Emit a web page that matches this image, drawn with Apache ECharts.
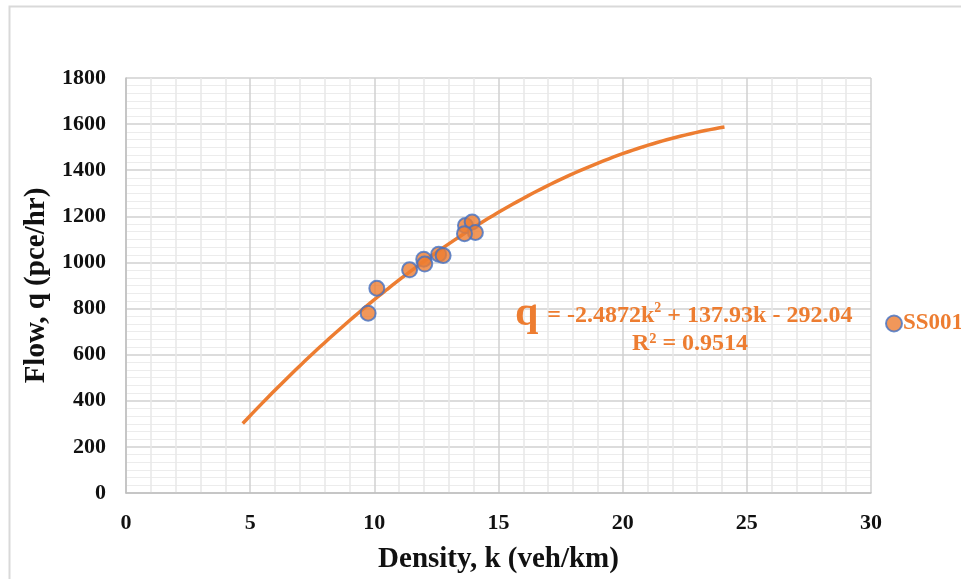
<!DOCTYPE html>
<html>
<head>
<meta charset="utf-8">
<script src="https://cdn.jsdelivr.net/npm/echarts@6/dist/echarts.min.js"></script>
<style>
  html, body { margin: 0; padding: 0; background: #fff; }
  #chart { width: 961px; height: 579px; }
</style>
</head>
<body>
<div id="chart"></div>
<script>
// Observed density (veh/km) and flow (pce/hr) pairs for station SS001
const densityK = [9.75, 10.1, 11.42, 11.99, 12.03, 12.59, 12.77, 13.67, 13.94, 14.07, 13.63];
const flowQ = [780, 888, 968, 1014, 993, 1036, 1030, 1160, 1175, 1130, 1125];

// Quadratic trendline: q = a*k^2 + b*k + c, fitted over k = 4.7 .. 24.1
const trendCoef = [-2.4872, 137.93, -292.04];
const trendRange = [4.7, 24.1];
const rSquared = '0.9514';

const seriesName = 'SS001';
const xTicks = [0, 5, 10, 15, 20, 25, 30];
const yTicks = [0, 200, 400, 600, 800, 1000, 1200, 1400, 1600, 1800];

const ORANGE = '#ED7D31';
const BLUE = '#4472C4';
const SERIF = '"Liberation Serif", "Times New Roman", serif';

const scatterData = densityK.map((k, i) => [k, flowQ[i]]);

const trendData = [];
for (let i = 0; i <= 100; i++) {
  const k = trendRange[0] + (trendRange[1] - trendRange[0]) * i / 100;
  trendData.push([k, trendCoef[0] * k * k + trendCoef[1] * k + trendCoef[2]]);
}

const eqTail = ' + ' + String(Math.abs(trendCoef[1])) + 'k - ' + Math.abs(trendCoef[2]).toFixed(2);

const chart = echarts.init(document.getElementById('chart'), null, { renderer: 'canvas' });

chart.setOption({
  animation: false,
  backgroundColor: '#fff',
  grid: { left: 126, right: 90, top: 78, bottom: 84 },
  xAxis: {
    type: 'value', min: xTicks[0], max: xTicks[xTicks.length - 1], interval: 5,
    name: 'Density, k (veh/km)', nameLocation: 'middle', nameGap: 52,
    nameTextStyle: { fontFamily: SERIF, fontWeight: 'bold', fontSize: 29, color: '#111' },
    axisLine: { show: true, lineStyle: { color: '#bfbfbf', width: 1.5 } },
    axisTick: { show: false },
    axisLabel: { fontFamily: SERIF, fontWeight: 'bold', fontSize: 22, color: '#111', margin: 19,
      formatter: v => String(v) },
    splitLine: { show: true, lineStyle: { color: '#d0d0d0', width: 1.5 } },
    minorTick: { show: false, splitNumber: 5 },
    minorSplitLine: { show: true, lineStyle: { color: '#e8e8e8', width: 1.5 } }
  },
  yAxis: {
    type: 'value', min: yTicks[0], max: yTicks[yTicks.length - 1], interval: 200,
    name: 'Flow, q (pce/hr)', nameLocation: 'middle', nameGap: 71, nameRotate: 90,
    nameTextStyle: { fontFamily: SERIF, fontWeight: 'bold', fontSize: 29, color: '#111' },
    axisLine: { show: true, lineStyle: { color: '#bfbfbf', width: 1.5 } },
    axisTick: { show: false },
    axisLabel: { fontFamily: SERIF, fontWeight: 'bold', fontSize: 22, color: '#111', margin: 20,
      formatter: v => String(v) },
    splitLine: { show: true, lineStyle: { color: '#d0d0d0', width: 1.5 } },
    minorTick: { show: false, splitNumber: 6 },
    minorSplitLine: { show: true, lineStyle: { color: '#ececec', width: 1 } }
  },
  legend: {
    left: 880, top: 307, itemWidth: 16, itemHeight: 16, itemGap: 4,
    data: [{ name: seriesName, icon: 'circle' }],
    textStyle: { fontFamily: SERIF, fontWeight: 'bold', fontSize: 23, color: ORANGE, padding: [0, 0, 0, -4] }
  },
  series: [
    {
      name: 'trend', type: 'line', data: trendData, showSymbol: false, smooth: false,
      lineStyle: { color: ORANGE, width: 3.5 }, z: 3, silent: true
    },
    {
      name: seriesName, type: 'scatter', data: scatterData, symbol: 'circle', symbolSize: 15,
      itemStyle: { color: ORANGE, borderColor: BLUE, borderWidth: 2 }, z: 4
    }
  ],
  graphic: [
    {
      type: 'rect', left: 7, top: 4, silent: true,
      shape: { width: 970, height: 600 },
      style: { fill: 'none', stroke: '#d9d9d9', lineWidth: 2 }
    },
    {
      type: 'text', left: 515, top: 293, z: 10,
      style: {
        text: '{q|q}{t| = ' + trendCoef[0] + 'k}{sup|2}{t|' + eqTail + '}',
        rich: {
          q: { fontFamily: SERIF, fontWeight: 'bold', fontSize: 42, fill: ORANGE, verticalAlign: 'bottom', padding: [0, 3, 0, 0] },
          t: { fontFamily: SERIF, fontWeight: 'bold', fontSize: 24, fill: ORANGE, verticalAlign: 'bottom', padding: [0, 0, 7, 0] },
          sup: { fontFamily: SERIF, fontWeight: 'bold', fontSize: 14, fill: ORANGE, verticalAlign: 'bottom', padding: [0, 0, 20, 0] }
        }
      }
    },
    {
      type: 'text', x: 690, y: 344, z: 10,
      style: {
        text: 'R² = ' + rSquared, align: 'center', verticalAlign: 'middle',
        fontFamily: SERIF, fontWeight: 'bold', fontSize: 24, fill: ORANGE
      }
    }
  ]
});
</script>
</body>
</html>
